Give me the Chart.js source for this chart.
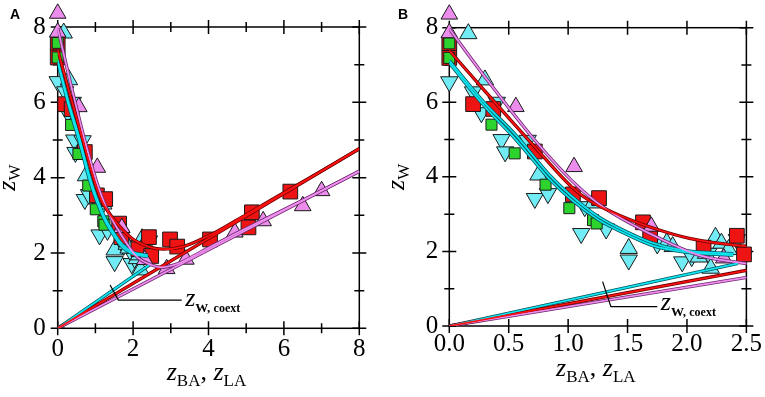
<!DOCTYPE html>
<html><head><meta charset="utf-8">
<script src="https://cdn.jsdelivr.net/npm/chart.js@4.4.1/dist/chart.umd.min.js"></script>
<style>
html,body{margin:0;padding:0;background:#fff;width:765px;height:397px;overflow:hidden}
#ca{position:absolute;left:0;top:0}
#cb{position:absolute;left:382px;top:0}
</style></head><body>
<canvas id="ca" width="382" height="397"></canvas>
<canvas id="cb" width="383" height="397"></canvas>
<script>
// ---------- data ----------
const redX   = [0, 0, 0.20, 0.37, 0.72, 1.04, 1.26, 1.63, 1.69, 2.14, 2.42, 2.48, 2.98, 3.17, 4.04, 5.06, 5.15, 6.17];
const redY   = [7.58, 7.19, 5.95, 5.82, 4.68, 3.53, 3.43, 2.78, 2.42, 2.10, 2.42, 1.92, 2.36, 2.17, 2.36, 2.68, 3.08, 3.63];
const greenX = [0, 0, 0.355, 0.55, 0.81, 1.01, 1.21, 1.24];
const greenY = [7.58, 7.19, 5.40, 4.63, 3.79, 3.16, 2.84, 2.75];
const cyanUpX = [0.16, 0.30, 0.75, 1.21, 1.51, 1.83, 1.88, 2.10, 2.16, 2.20, 2.24, 2.29, 2.35];
const cyanUpY = [7.84, 6.60, 4.05, 3.30, 2.08, 2.23, 2.13, 1.85, 1.95, 1.55, 2.38, 2.22, 2.05];
const cyanDnX = [0, 0.20, 0.27, 0.40, 0.44, 0.47, 0.66, 0.72, 0.83, 1.11, 1.14, 1.32, 1.51, 1.75, 1.96, 2.04, 2.18, 2.42];
const cyanDnY = [6.55, 6.28, 5.72, 6.00, 5.00, 4.67, 4.98, 3.42, 3.55, 2.48, 3.20, 2.60, 1.77, 2.20, 1.72, 1.86, 1.95, 2.32];
const violetX = [0, 0, 0.56, 1.05, 1.70, 2.31, 2.89, 3.40, 4.70, 5.45, 6.50, 7.00];
const violetY = [8.36, 7.86, 5.88, 4.27, 2.67, 1.82, 1.58, 1.83, 2.55, 2.85, 3.25, 3.65];

const redCurveX = [0, 0.3, 0.72, 1.03, 1.18, 1.46, 1.74, 2.02, 2.43, 2.8, 3.33, 4.13, 5.0, 6.0, 7.0, 8.0];
const redCurveY = [7.39, 6.3, 4.8, 3.73, 3.36, 2.93, 2.6, 2.35, 2.16, 2.1, 2.17, 2.52, 3.02, 3.6, 4.18, 4.77];
const violetCurveX = [0, 0.3, 0.72, 1.03, 1.29, 1.68, 2.1, 2.49, 2.75, 3.2, 3.8, 4.5, 5.5, 6.5, 8.0];
const violetCurveY = [7.97, 6.68, 4.98, 3.9, 3.2, 2.49, 1.9, 1.68, 1.62, 1.72, 2.03, 2.4, 2.9, 3.4, 4.17];
const cyanCurve1X = [0, 0.3, 0.56, 0.84, 1.03, 1.26, 1.42, 1.7, 1.97, 2.39];
const cyanCurve1Y = [7.05, 5.88, 5.0, 3.95, 3.38, 2.84, 2.57, 2.17, 1.99, 1.9];
const cyanCurve2X = [0, 0.3, 0.56, 0.84, 1.03, 1.26, 1.42, 1.7, 1.97, 2.39];
const cyanCurve2Y = [7.12, 5.97, 5.12, 4.06, 3.48, 2.92, 2.64, 2.24, 2.03, 1.94];
const redLineX = [0, 8];     const redLineY = [0, 4.77];
const violetLineX = [0, 8];  const violetLineY = [0, 4.17];
const cyanLineX = [0, 2.43]; const cyanLineY = [0, 1.68];

const xTicksA = [0, 2, 4, 6, 8];
const xMinorA = [1, 3, 5, 7];
const xTicksB = [0, 0.5, 1.0, 1.5, 2.0, 2.5];
const yTicks  = [0, 2, 4, 6, 8];
const yMinor  = [1, 3, 5, 7];

// ---------- helpers ----------
const pts = (xs, ys, maxX) => xs.map((x, i) => ({x, y: ys[i]})).filter(p => p.x <= maxX);
const SERIF = '"Liberation Serif", "Times New Roman", serif';

function datasets(maxX) {
  const ds = [];
  const curve = (xs, ys, col, dark) => {
    ds.push({data: pts(xs, ys, 99), showLine: true, pointRadius: 0, borderColor: col, borderWidth: 1.7,
             cubicInterpolationMode: 'monotone', order: 0});
    ds.push({data: pts(xs, ys, 99), showLine: true, pointRadius: 0, borderColor: dark, borderWidth: 3.3,
             cubicInterpolationMode: 'monotone', order: 1});
  };
  curve(redCurveX, redCurveY, '#ff1010', '#6a0000');
  curve(violetCurveX, violetCurveY, '#f08ef0', '#6e2a6e');
  curve(cyanCurve1X, cyanCurve1Y, '#10e4f0', '#00565c');
  curve(cyanCurve2X, cyanCurve2Y, '#10e4f0', '#00565c');
  curve(redLineX, redLineY, '#ff1010', '#6a0000');
  curve(violetLineX, violetLineY, '#f08ef0', '#6e2a6e');
  curve(cyanLineX, cyanLineY, '#10e4f0', '#00565c');
  const mk = (xs, ys, style, r, rot, fill, ord) => ds.push({
    data: pts(xs, ys, maxX), pointStyle: style, pointRadius: r, pointRotation: rot,
    backgroundColor: fill, borderColor: '#1a1a1a', borderWidth: 1, clip: false, order: ord, marker: true});
  mk(violetX, violetY, 'triangle', 9.6, 0, '#ec8cec', 2);
  mk(greenX, greenY, 'rect', 7.8, 0, '#2ed42e', 3);
  mk(redX, redY, 'rect', 10.4, 0, '#ee1414', 4);
  mk(cyanUpX, cyanUpY, 'triangle', 10, 0, '#72ecf4', 5);
  mk(cyanDnX, cyanDnY, 'triangle', 10, 180, '#72ecf4', 6);
  return ds;
}

function rich(ctx, parts, x, y, center) {
  let w = 0;
  parts.forEach(p => { ctx.font = p[1]; p.w = ctx.measureText(p[0]).width; w += p.w; });
  let cx = center ? x - w / 2 : x;
  ctx.textAlign = 'left'; ctx.textBaseline = 'alphabetic'; ctx.fillStyle = '#000';
  parts.forEach(p => { ctx.font = p[1]; ctx.fillText(p[0], cx, y + p[2]); cx += p.w; });
}

function decor(cfg) {
  return {
    id: 'decor',
    beforeDatasetsDraw(chart) {
      const {ctx, chartArea: a} = chart, xs = chart.scales.x, ys = chart.scales.y;
      ctx.save();
      ctx.strokeStyle = '#000'; ctx.lineWidth = 1.5;
      ctx.strokeRect(a.left, a.top, a.right - a.left, a.bottom - a.top);
      ctx.beginPath();
      const seg = (x1, y1, x2, y2) => { ctx.moveTo(x1, y1); ctx.lineTo(x2, y2); };
      const xt = (v, L) => { const p = xs.getPixelForValue(v); seg(p, a.bottom - L, p, a.bottom + L); seg(p, a.top - L, p, a.top + L); };
      const yt = (v, L) => { const p = ys.getPixelForValue(v); seg(a.left - L, p, a.left + L, p); seg(a.right - L, p, a.right + L, p); };
      cfg.xMajor.forEach(v => xt(v, 7)); cfg.xMinor.forEach(v => xt(v, 5));
      cfg.yMajor.forEach(v => yt(v, 7)); cfg.yMinor.forEach(v => yt(v, 5));
      ctx.stroke();
      ctx.restore();
    },
    afterDatasetDraw(chart, args) {
      const ds = chart.data.datasets[args.index];
      if (!ds.marker) return;
      const a = chart.chartArea;
      args.meta.data.forEach(el => {
        const m = 5;
        if (el.x < a.left - m || el.x > a.right + m || el.y < a.top - m || el.y > a.bottom + m) el.draw(chart.ctx);
      });
    },
    afterDraw(chart) {
      const {ctx, chartArea: a} = chart, xs = chart.scales.x, ys = chart.scales.y;
      ctx.save();
      const zI = 'italic 26px ' + SERIF, sub = '17px ' + SERIF, main = '26px ' + SERIF;
      rich(ctx, [['z', zI, 0], ['BA', sub, 6], [', ', main, 0], ['z', zI, 0], ['LA', sub, 6]],
           (a.left + a.right) / 2 - 2, cfg.xTitleY, true);
      ctx.save();
      ctx.translate(cfg.yTitleX, (a.top + a.bottom) / 2);
      ctx.rotate(-Math.PI / 2);
      rich(ctx, [['z', zI, 0], ['W', sub, 5]], 0, 0, true);
      ctx.restore();
      const an = cfg.annot;
      ctx.strokeStyle = '#000'; ctx.lineWidth = 1.2;
      ctx.beginPath();
      ctx.moveTo(xs.getPixelForValue(an.top[0]), ys.getPixelForValue(an.top[1]));
      ctx.lineTo(xs.getPixelForValue(an.corner[0]), ys.getPixelForValue(an.corner[1]));
      ctx.lineTo(xs.getPixelForValue(an.end[0]), ys.getPixelForValue(an.end[1]));
      ctx.stroke();
      rich(ctx, [['z', zI, 0], ['W, ', 'bold 13px ' + SERIF, 6], ['coext', 'bold 12px ' + SERIF, 6]],
           xs.getPixelForValue(an.textX), ys.getPixelForValue(an.end[1]) + cfg.annotDy, false);
      ctx.font = 'bold 14px "Liberation Sans", Arial, sans-serif';
      ctx.fillStyle = '#000'; ctx.textAlign = 'left'; ctx.textBaseline = 'alphabetic';
      ctx.fillText(cfg.label, cfg.labelX, 19);
      ctx.restore();
    }
  };
}

function makeChart(id, cfg) {
  const tickFont = {family: SERIF, size: 25};
  return new Chart(document.getElementById(id), {
    type: 'scatter',
    data: {datasets: datasets(cfg.maxX)},
    options: {
      responsive: false, animation: false, devicePixelRatio: 1,
      layout: {padding: cfg.pad},
      plugins: {legend: {display: false}, tooltip: {enabled: false}},
      scales: {
        x: {type: 'linear', min: 0, max: cfg.xMax,
            grid: {display: false, drawTicks: false}, border: {display: false},
            afterBuildTicks: s => { s.ticks = cfg.xMajor.map(v => ({value: v})); },
            afterFit: s => { s.height = cfg.xH; },
            ticks: {font: tickFont, color: '#000', padding: cfg.xPad, maxRotation: 0, autoSkip: false,
                    callback: cfg.xFmt}},
        y: {type: 'linear', min: 0, max: 8,
            grid: {display: false, drawTicks: false}, border: {display: false},
            afterBuildTicks: s => { s.ticks = cfg.yMajor.map(v => ({value: v})); },
            afterFit: s => { s.width = cfg.yW; },
            ticks: {font: tickFont, color: '#000', padding: cfg.yPad, autoSkip: false,
                    callback: v => String(v)}}
      }
    },
    plugins: [decor(cfg)]
  });
}

makeChart('ca', {
  label: 'A', labelX: 10, xMax: 8, maxX: 99,
  xMajor: xTicksA, xMinor: xMinorA, yMajor: yTicks, yMinor: yMinor,
  pad: {left: 0, right: 22.7, top: 26.7, bottom: 0}, xH: 68.7, yW: 57.7, xPad: 6, yPad: 12,
  xFmt: v => String(v), yTitleX: 15, xTitleY: 380, annotDy: 6,
  annot: {top: [1.39, 1.15], corner: [1.61, 0.75], end: [3.29, 0.75], textX: 3.38}
});
makeChart('cb', {
  label: 'B', labelX: 16, xMax: 2.5, maxX: 2.52,
  xMajor: xTicksB, xMinor: [], yMajor: yTicks, yMinor: yMinor,
  pad: {left: 0, right: 17.3, top: 27.7, bottom: 0}, xH: 71, yW: 67.3, xPad: 3, yPad: 11,
  xFmt: v => v.toFixed(1), yTitleX: 22, xTitleY: 376, annotDy: 3,
  annot: {top: [1.29, 1.19], corner: [1.36, 0.52], end: [1.75, 0.52], textX: 1.78}
});
</script>
</body></html>
